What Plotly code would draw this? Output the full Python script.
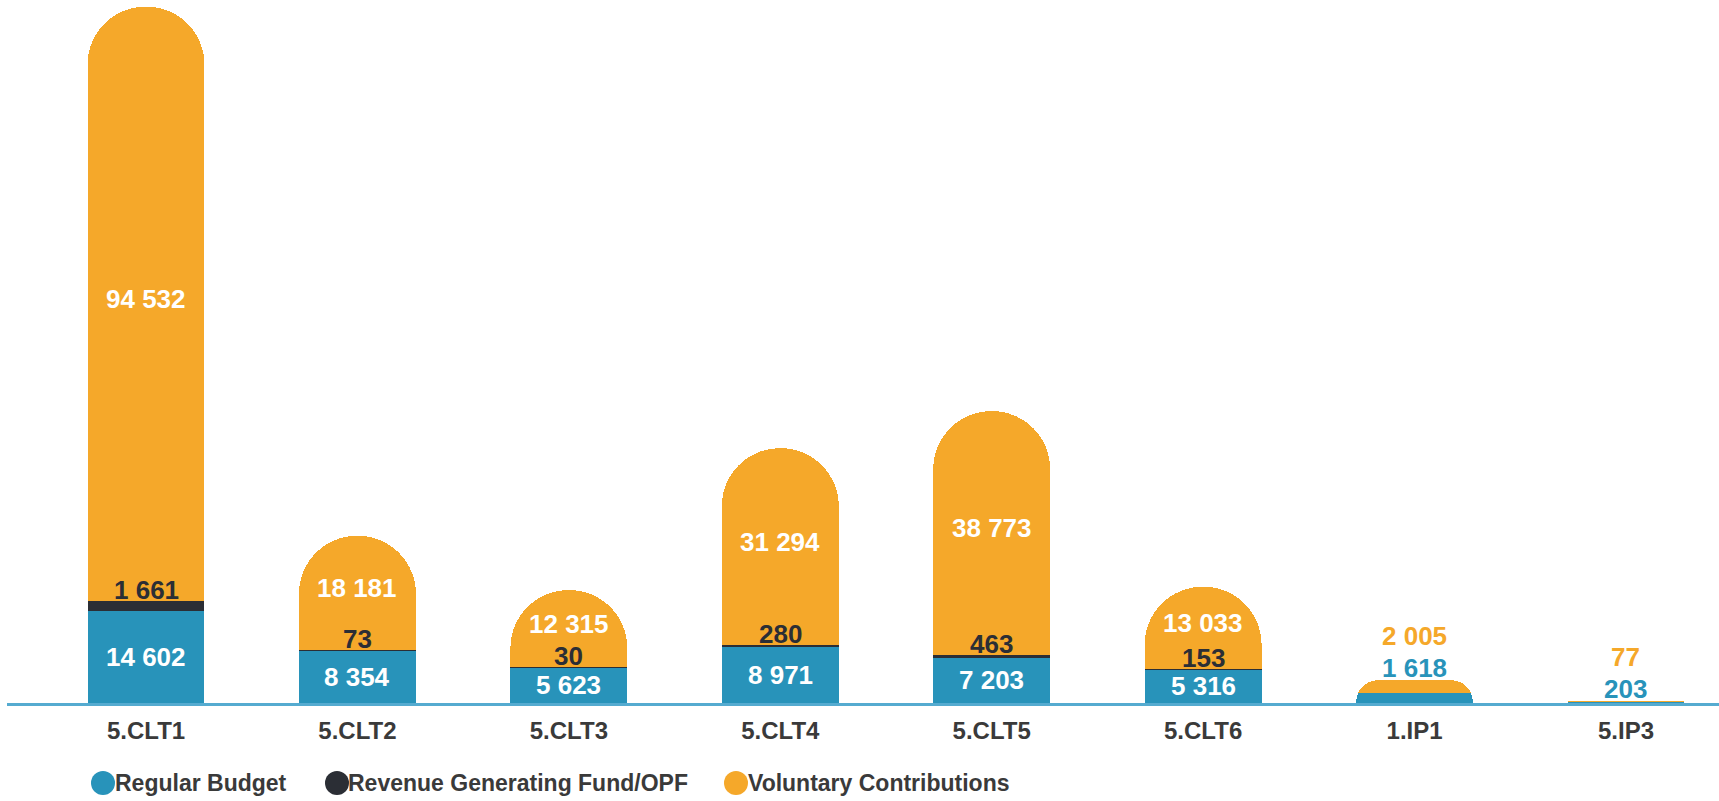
import plotly.graph_objects as go

categories = ["5.CLT1", "5.CLT2", "5.CLT3", "5.CLT4", "5.CLT5", "5.CLT6", "1.IP1", "5.IP3"]
regular_budget = [14602, 8354, 5623, 8971, 7203, 5316, 1618, 203]
revenue_fund = [1661, 73, 30, 280, 463, 153, 0, 0]
voluntary = [94532, 18181, 12315, 31294, 38773, 13033, 2005, 77]
series_names = ["Regular Budget", "Revenue Generating Fund/OPF", "Voluntary Contributions"]

BLUE = "#2893BA"
DARK = "#2B2E35"
ORANGE = "#F5A82A"
AXIS = "#55ABD0"
TEXT = "#3A3A3A"
FONT = "Liberation Sans, Arial, sans-serif"

def fmt(v):
    return f"{v:,}".replace(",", " ")

fig = go.Figure()
for name, vals, col in zip(series_names, [regular_budget, revenue_fund, voluntary], [BLUE, DARK, ORANGE]):
    fig.add_trace(go.Bar(x=categories, y=vals, name=name, marker=dict(color=col, line=dict(width=0)),
                         showlegend=False, hoverinfo="x+y+name"))

VS = 26
ann = []
small = {"1.IP1", "5.IP3"}
for c, b, r, v in zip(categories, regular_budget, revenue_fund, voluntary):
    total = b + r + v
    if c in small:
        ann.append(dict(x=c, y=total, text=fmt(b), showarrow=False, yanchor="middle", yshift=12,
                        font=dict(family=FONT, size=VS, color=BLUE, weight="bold")))
        ann.append(dict(x=c, y=total, text=fmt(v), showarrow=False, yanchor="middle", yshift=44,
                        font=dict(family=FONT, size=VS, color=ORANGE, weight="bold")))
        continue
    ann.append(dict(x=c, y=b / 2, text=fmt(b), showarrow=False, yanchor="middle",
                    font=dict(family=FONT, size=VS, color="white", weight="bold")))
    ann.append(dict(x=c, y=b + r, text=fmt(r), showarrow=False, yanchor="middle", yshift=11,
                    font=dict(family=FONT, size=VS, color=DARK, weight="bold")))
    ann.append(dict(x=c, y=b + r + v / 2, text=fmt(v), showarrow=False, yanchor="middle", yshift=5,
                    font=dict(family=FONT, size=VS, color="white", weight="bold")))

# legend drawn as coloured dots + text
L, T, B, H = 7, 6, 98, 801
PH = H - T - B
W = 1719 - L
LEG_Y = -(783 - (H - B)) / PH
shapes = []
for name, col, cx, tx in zip(series_names, [BLUE, DARK, ORANGE], [103, 337, 736], [113, 346, 746]):
    shapes.append(dict(type="circle", xref="paper", yref="paper", xsizemode="pixel", ysizemode="pixel",
                       xanchor=(cx - L) / W, yanchor=LEG_Y, x0=-12, x1=12, y0=-12, y1=12,
                       fillcolor=col, line=dict(width=0)))
    ann.append(dict(xref="paper", yref="paper", x=(tx - L) / W, y=LEG_Y,
                    xanchor="left", yanchor="middle", showarrow=False, text=name,
                    font=dict(family=FONT, size=23, color=TEXT, weight="bold")))

fig.update_layout(
    barmode="stack",
    bargap=0.447,
    barcornerradius="50%",
    width=1719, height=801,
    margin=dict(l=L, r=0, t=T, b=B),
    plot_bgcolor="white", paper_bgcolor="white",
    annotations=ann,
    shapes=shapes,
    xaxis=dict(range=[-0.6575, 7.44], showline=True, linecolor=AXIS, linewidth=3, ticks="",
               showgrid=False, zeroline=False, ticklabelstandoff=4,
               tickfont=dict(family=FONT, size=24, color=TEXT, weight="bold")),
    yaxis=dict(range=[0, 110900], visible=False, showgrid=False, zeroline=False),
    showlegend=False,
)

fig.write_html("out.html", config={"displayModeBar": False},
               post_script="document.body.style.margin='0';document.body.style.overflow='hidden';")
